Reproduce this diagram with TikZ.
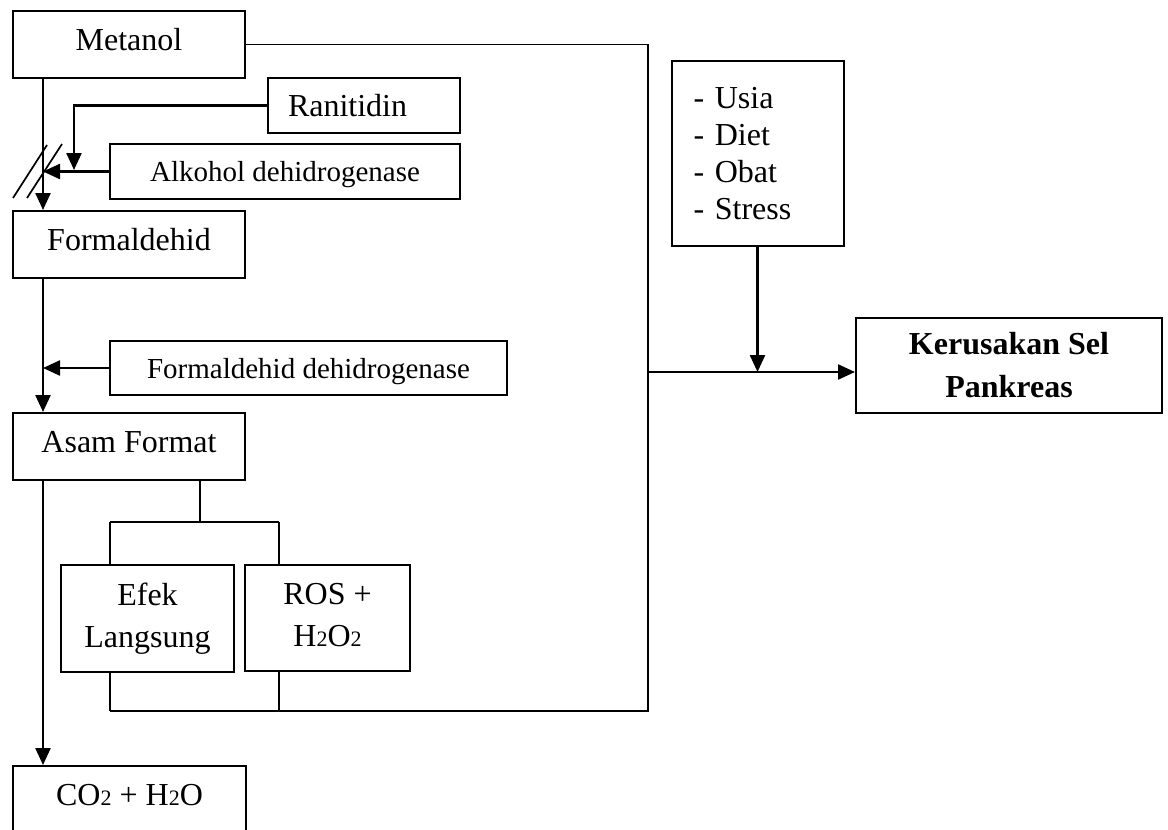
\documentclass[tikz,border=0pt]{standalone}
\usepackage{fontspec}
\setmainfont{Liberation Serif}
\usetikzlibrary{arrows.meta,calc}
\newcommand\subn[1]{{\fontsize{22}{22}\selectfont #1}}
\begin{document}
\begin{tikzpicture}[x=1pt,y=-1pt,
  box/.style={draw, line width=2pt, inner sep=0pt, align=center, font=\fontsize{32}{38}\selectfont},
  one/.style={text height=22pt, text depth=11pt},
  small/.style={font=\fontsize{29}{34}\selectfont},
  two/.style={font=\fontsize{32}{42}\selectfont},
  arr/.style={line width=2.4pt, -{Triangle[length=17pt,width=15pt]}},
  ln/.style={line width=1.7pt},
]
\useasboundingbox (0,0) rectangle (1168,830);
\clip (0,0) rectangle (1168,830);

% nodes
\node[box,one,minimum width=232pt,minimum height=67pt] (met) at (129,44.5) {Metanol};
\node[box,minimum width=192pt,minimum height=55pt,text width=152pt,inner xsep=20pt,align=left] (ran) at (364,105.5) {Ranitidin};
\node[box,small,text depth=0pt,minimum width=350pt,minimum height=55pt] (alk) at (285,171.5) {Alkohol dehidrogenase};
\node[box,one,minimum width=232pt,minimum height=67pt] (form) at (129,244.5) {Formaldehid};
\node[box,small,text depth=0pt,minimum width=397pt,minimum height=54pt] (fdh) at (308.5,368) {Formaldehid dehidrogenase};
\node[box,one,minimum width=232pt,minimum height=67pt] (asam) at (129,446.5) {Asam Format};
\node[box,two,minimum width=173pt,minimum height=107pt] (efek) at (147.5,618.5) {Efek\\Langsung};
\node[box,two,minimum width=165pt,minimum height=106pt] (ros) at (327.5,618) {ROS +\\H\subn2O\subn2\vphantom{g}};
\node[box,one,minimum width=233pt,minimum height=67pt] (co2) at (129.5,799.5) {CO\subn2 + H\subn2O};
\node[box,align=left,text width=128pt,inner xsep=22pt,minimum height=185pt,font=\fontsize{32}{37}\selectfont] (usia) at (757.5,153.5) {- Usia\\- Diet\\- Obat\\- Stress\par\vspace{18pt}};
\node[box,font=\bfseries\fontsize{32}{43}\selectfont,minimum width=306pt,minimum height=95pt] (ker) at (1009,365.5) {Kerusakan Sel\\Pankreas};

% coordinates
\coordinate (mx) at (43,0);
\coordinate (br) at (648,711);
\coordinate (bl) at (110,711);
\coordinate (bm) at (279,711);
\coordinate (mid) at (648,372);
\coordinate (rj) at (74,170);
\coordinate (ab) at (200,522);
\coordinate (al) at (110,522);
\coordinate (ar) at (279,522);

% thin connectors
\draw[ln] (met.east) -| (br) -- (bl);
\draw[ln] (efek.south -| bl) -- (bl);
\draw[ln] (ros.south -| bm) -- (bm);
\draw[ln] (asam.south -| ab) -- (ab);
\draw[ln] (al) -- (ar);
\draw[ln] (al) -- (efek.north -| al);
\draw[ln] (ar) -- (ros.north -| ar);

% main arrows
\draw[arr] (met.south -| mx) -- (form.north -| mx);
\draw[arr] (ran.west) -| (rj);
\draw[arr] (alk.west) -- (alk.west -| mx);
\draw[ln] (13,198) -- (47,145);
\draw[ln] (27,198) -- (62,144);
\draw[arr] (form.south -| mx) -- (asam.north -| mx);
\draw[arr] (fdh.west) -- (fdh.west -| mx);
\draw[arr] (asam.south -| mx) -- (co2.north -| mx);
\draw[arr] (usia.south) -- (usia.south |- mid);
\draw[arr] (mid) -- (mid -| ker.west);
\end{tikzpicture}
\end{document}
